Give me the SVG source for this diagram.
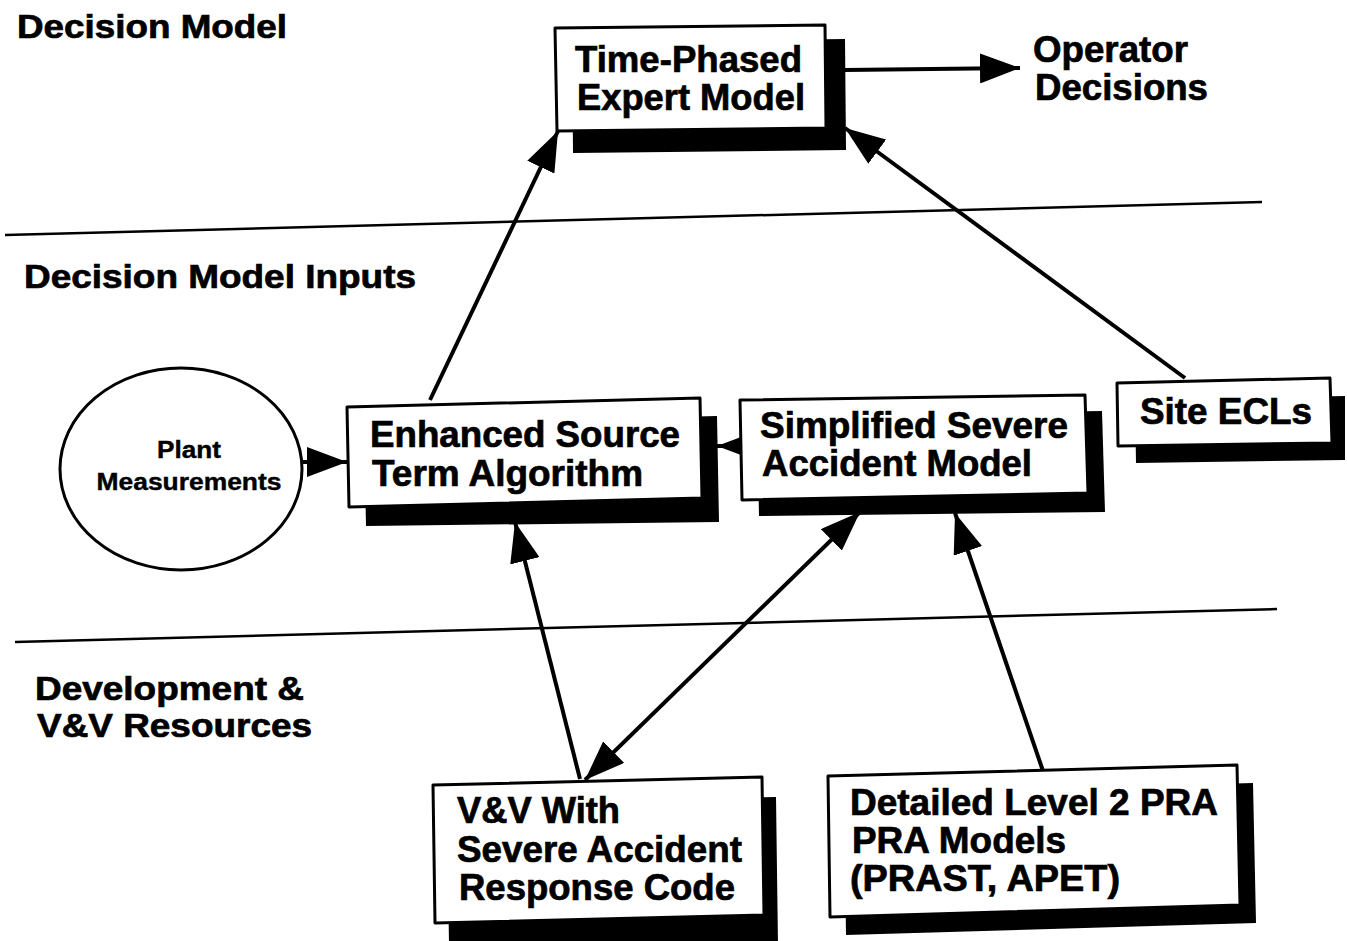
<svg xmlns="http://www.w3.org/2000/svg" width="1347" height="941" viewBox="0 0 1347 941">
  <style>
    .box { fill: #fff; stroke: #000; stroke-width: 3; stroke-linejoin: round; }
    .shadow { fill: #000; }
    .t { font-family: "Liberation Sans", Arial, Helvetica, sans-serif; font-weight: bold; fill: #000; stroke: #000; stroke-width: 0.7; }
    .lbl { font-size: 34px; }
    .big { font-size: 36px; }
    .small { font-size: 23px; stroke-width: 0.4; }
    .conn { stroke: #000; stroke-width: 4; fill: none; }
    .rule { stroke: #000; stroke-width: 2.5; fill: none; }
  </style>
  <defs>
    <marker id="head" viewBox="0 0 40 30" refX="40" refY="15" markerWidth="40" markerHeight="30" markerUnits="userSpaceOnUse" orient="auto-start-reverse">
      <path d="M0,0 L40,15 L0,30 z" fill="#000"/>
    </marker>
  </defs>

  <rect width="1347" height="941" fill="#fff"/>

  <!-- tier separators -->
  <line class="rule" x1="5" y1="235" x2="1262" y2="202"/>
  <line class="rule" x1="15" y1="642" x2="1277" y2="609"/>

  <!-- tier labels -->
  <text class="t lbl" x="17" y="38" textLength="270" lengthAdjust="spacingAndGlyphs">Decision Model</text>
  <text class="t lbl" x="24" y="288" textLength="392" lengthAdjust="spacingAndGlyphs">Decision Model Inputs</text>
  <text class="t lbl" x="35" y="700" textLength="269" lengthAdjust="spacingAndGlyphs">Development &amp;</text>
  <text class="t lbl" x="37" y="737" textLength="275" lengthAdjust="spacingAndGlyphs">V&amp;V Resources</text>

  <!-- connectors -->
  <g id="connectors">
    <line class="conn" x1="845" y1="70" x2="1020" y2="68" marker-end="url(#head)"/>
    <line class="conn" x1="302" y1="462" x2="347" y2="462" marker-end="url(#head)"/>
    <line class="conn" x1="430" y1="400" x2="558" y2="131" marker-end="url(#head)"/>
    <line class="conn" x1="1185" y1="378" x2="845" y2="128" marker-end="url(#head)"/>
    <line class="conn" x1="742" y1="446" x2="717" y2="446" marker-end="url(#head)"/>
    <line class="conn" x1="580" y1="779" x2="515" y2="522" marker-end="url(#head)"/>
    <line class="conn" x1="585" y1="780" x2="860" y2="512" marker-start="url(#head)" marker-end="url(#head)"/>
    <line class="conn" x1="1043" y1="771" x2="955" y2="513" marker-end="url(#head)"/>
  </g>

  <!-- Time-Phased Expert Model -->
  <g id="time-phased-expert-model">
    <polygon class="shadow" points="572,42 845,39 846,150 573,153"/>
    <polygon class="box" points="555,28 825,25 826,128 557,131"/>
    <text class="t big" x="575" y="72" textLength="227" lengthAdjust="spacingAndGlyphs">Time-Phased</text>
    <text class="t big" x="577" y="110" textLength="228" lengthAdjust="spacingAndGlyphs">Expert Model</text>
  </g>

  <!-- Operator Decisions -->
  <g id="operator-decisions">
    <text class="t big" x="1033" y="62" textLength="155" lengthAdjust="spacingAndGlyphs">Operator</text>
    <text class="t big" x="1035" y="100" textLength="173" lengthAdjust="spacingAndGlyphs">Decisions</text>
  </g>

  <!-- Plant Measurements -->
  <g id="plant-measurements">
    <ellipse class="box" cx="181" cy="469" rx="121" ry="101"/>
    <text class="t small" x="189" y="458" text-anchor="middle" textLength="64" lengthAdjust="spacingAndGlyphs">Plant</text>
    <text class="t small" x="189" y="490" text-anchor="middle" textLength="185" lengthAdjust="spacingAndGlyphs">Measurements</text>
  </g>

  <!-- Enhanced Source Term Algorithm -->
  <g id="enhanced-source-term-algorithm">
    <polygon class="shadow" points="364,425 717,416 719,522 366,526"/>
    <polygon class="box" points="347,407 700,398 702,498 349,507"/>
    <text class="t big" x="370" y="447" textLength="310" lengthAdjust="spacingAndGlyphs">Enhanced Source</text>
    <text class="t big" x="372" y="486" textLength="271" lengthAdjust="spacingAndGlyphs">Term Algorithm</text>
  </g>

  <!-- Simplified Severe Accident Model -->
  <g id="simplified-severe-accident-model">
    <polygon class="shadow" points="757,416 1102,411 1105,512 759,516"/>
    <polygon class="box" points="740,400 1085,395 1088,493 742,500"/>
    <text class="t big" x="760" y="438" textLength="308" lengthAdjust="spacingAndGlyphs">Simplified Severe</text>
    <text class="t big" x="762" y="476" textLength="270" lengthAdjust="spacingAndGlyphs">Accident Model</text>
  </g>

  <!-- Site ECLs -->
  <g id="site-ecls">
    <polygon class="shadow" points="1135,400 1345,396 1345,460 1136,463"/>
    <polygon class="box" points="1117,383 1330,378 1332,443 1118,446"/>
    <text class="t big" x="1140" y="424" textLength="172" lengthAdjust="spacingAndGlyphs">Site ECLs</text>
  </g>

  <!-- V&V With Severe Accident Response Code -->
  <g id="vv-severe-accident-response-code">
    <polygon class="shadow" points="447,805 776,797 778,945 449,945"/>
    <polygon class="box" points="433,785 762,777 764,915 435,923"/>
    <text class="t big" x="457" y="823" textLength="163" lengthAdjust="spacingAndGlyphs">V&amp;V With</text>
    <text class="t big" x="457" y="862" textLength="285" lengthAdjust="spacingAndGlyphs">Severe Accident</text>
    <text class="t big" x="459" y="900" textLength="276" lengthAdjust="spacingAndGlyphs">Response Code</text>
  </g>

  <!-- Detailed Level 2 PRA Models -->
  <g id="detailed-level-2-pra-models">
    <polygon class="shadow" points="844,794 1253,783 1256,923 846,935"/>
    <polygon class="box" points="828,776 1237,765 1240,905 830,917"/>
    <text class="t big" x="850" y="815" textLength="368" lengthAdjust="spacingAndGlyphs">Detailed Level 2 PRA</text>
    <text class="t big" x="852" y="853" textLength="214" lengthAdjust="spacingAndGlyphs">PRA Models</text>
    <text class="t big" x="850" y="891" textLength="270" lengthAdjust="spacingAndGlyphs">(PRAST, APET)</text>
  </g>
</svg>
